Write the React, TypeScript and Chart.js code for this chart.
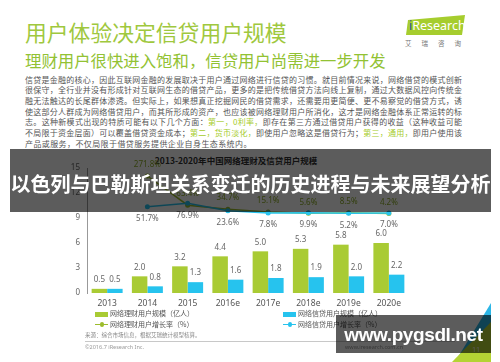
import React, { useEffect, useRef } from 'react';
import { Chart, registerables } from 'chart.js';

Chart.register(...registerables);

const categories = ['2013', '2014', '2015', '2016e', '2017e', '2018e', '2019e', '2020e'];
const wealthUsers = [0.5, 2.0, 3.2, 4.4, 5.0, 5.3, 5.8, 6.0];
const creditUsers = [0.5, 0.8, 1.3, 1.6, 1.8, 1.9, 2.0, 2.2];
const wealthGrowth = [null, 271.8, 63.4, 34.7, 15.1, 5.6, 8.5, 4.2];
const creditGrowth = [null, 51.7, 76.9, 23.6, 7.8, 9.9, 5.2, 7.0];
const yTicks = [0, 3, 6, 9, 12, 15];

const seriesNames = ['网络理财用户规模（亿人）', '网络信贷用户规模（亿人）', '网络理财用户增长率（%）', '网络信贷用户增长率（%）'];

const paragraphLines = [
  '信贷是金融的核心，因此互联网金融的发展取决于用户通过网络进行信贷的习惯。就目前情况来说，网络借贷的模式创新',
  '很保守，全行业并没有形成针对互联网生态的借贷产品，更多的是把传统借贷方法向线上复制，通过大数据风控向传统金',
  '融无法触达的长尾群体渗透。但实际上，如果想真正挖掘网民的借贷需求，还需要用更简便、更不易察觉的借贷方式，诱',
  '使这部分人群成为网络借贷用户，而其所形成的资产，也应该被网络理财用户所消化，这才是网络金融体系正常运转的标',
];

const GREEN = '#a9cb34';
const BLUE = '#26c3ee';
const CJK = '"Noto Sans CJK SC", "Noto Sans", sans-serif';

const labelPlugin = {
  id: 'valueLabels',
  afterDatasetsDraw(chart: any) {
    const ctx = chart.ctx;
    ctx.save();
    ctx.textAlign = 'center';
    ctx.textBaseline = 'middle';
    ctx.font = '8px "Noto Sans", sans-serif';
    chart.data.datasets.forEach((ds: any, i: number) => {
      const meta = chart.getDatasetMeta(i);
      meta.data.forEach((el: any, j: number) => {
        const v = ds.data[j];
        if (v == null) return;
        if (ds.labelKind === 'bar') {
          ctx.fillStyle = '#666';
          ctx.fillText(v.toFixed(1), el.x, el.y - 9);
        } else if (ds.labelKind === 'above') {
          ctx.fillStyle = '#8fae2a';
          ctx.fillText(v.toFixed(1) + '%', el.x, el.y - 11);
        } else {
          ctx.fillStyle = '#666';
          ctx.fillText(v.toFixed(1) + '%', el.x, el.y + 12);
        }
      });
    });
    ctx.restore();
  },
};

function ChartBox() {
  const ref = useRef<HTMLCanvasElement | null>(null);
  useEffect(() => {
    if (!ref.current) return;
    const chart = new Chart(ref.current, {
      type: 'bar',
      data: {
        labels: categories,
        datasets: [
          {
            type: 'line',
            label: seriesNames[3],
            data: creditGrowth,
            yAxisID: 'y1',
            borderColor: BLUE,
            backgroundColor: BLUE,
            borderWidth: 1.5,
            pointRadius: 2.5,
            pointBackgroundColor: BLUE,
            pointBorderWidth: 0,
            order: 0,
            labelKind: 'below',
          } as any,
          {
            type: 'line',
            label: seriesNames[2],
            data: wealthGrowth,
            yAxisID: 'y1',
            borderColor: '#9cbc2c',
            backgroundColor: '#9cbc2c',
            borderWidth: 1.5,
            pointRadius: 2.5,
            pointBackgroundColor: '#9cbc2c',
            pointBorderWidth: 0,
            order: 1,
            labelKind: 'above',
          } as any,
          {
            type: 'bar',
            label: seriesNames[0],
            data: wealthUsers,
            backgroundColor: GREEN,
            yAxisID: 'y',
            categoryPercentage: 0.77,
            barPercentage: 1,
            order: 2,
            labelKind: 'bar',
          } as any,
          {
            type: 'bar',
            label: seriesNames[1],
            data: creditUsers,
            backgroundColor: BLUE,
            yAxisID: 'y',
            categoryPercentage: 0.77,
            barPercentage: 1,
            order: 2,
            labelKind: 'bar',
          } as any,
        ],
      },
      options: {
        responsive: false,
        animation: false,
        layout: { padding: { top: 18, right: 41, left: 0, bottom: 0 } },
        plugins: {
          legend: { display: false },
          title: { display: false },
          tooltip: { enabled: false },
        },
        scales: {
          x: {
            grid: { display: false, drawTicks: false },
            border: { display: false },
            ticks: { color: '#555', font: { size: 8.5, family: '"Noto Sans", sans-serif' }, padding: 5 },
            afterFit: (s: any) => { s.height = 27; },
          },
          y: {
            min: 0,
            max: 15,
            grid: { display: false, drawTicks: false },
            border: { display: true, color: '#999', width: 1 },
            ticks: { color: '#666', font: { size: 8, family: '"Noto Sans", sans-serif' }, padding: 7 },
            afterBuildTicks: (s: any) => { s.ticks = yTicks.map((v) => ({ value: v })); },
            afterFit: (s: any) => { s.width = 37; },
          },
          y1: {
            display: false,
            position: 'right',
            min: -564,
            max: 329,
          },
        },
      } as any,
      plugins: [labelPlugin],
    });
    return () => chart.destroy();
  }, []);
  return (
    <canvas
      ref={ref}
      width={400}
      height={170}
      style={{ position: 'absolute', left: 50, top: 150, width: 400, height: 170 }}
    />
  );
}

const abs = (left: number, top: number, extra: any = {}) => ({ position: 'absolute' as const, left, top, ...extra });

export default function App() {
  const hl = { color: '#a6cc2c' };
  return (
    <div style={{ position: 'fixed', left: 0, top: 0, width: 500, height: 362, background: '#fff', overflow: 'hidden', fontFamily: CJK }}>
      {/* titles */}
      <div style={abs(25, 21, { fontSize: 21.8, lineHeight: 1, color: '#9fc83e', whiteSpace: 'nowrap' })}>用户体验决定信贷用户规模</div>
      <div style={abs(25, 51.5, { fontSize: 16.4, lineHeight: 1, color: '#92c233', whiteSpace: 'nowrap' })}>理财用户很快进入饱和，信贷用户尚需进一步开发</div>

      {/* logo */}
      <div style={abs(0, 0, { width: 500, height: 362, clipPath: 'polygon(408px 20px, 465px 15px, 462px 35px, 406px 35px)', background: '#a6cd2e' })} />
      <div style={abs(409, 20, { fontSize: 12.5, lineHeight: 1, color: '#fff', fontFamily: '"Noto Sans", sans-serif', whiteSpace: 'nowrap' })}>
        <span style={{ color: '#2d4f9a' }}>i</span>Research
      </div>
      <div style={abs(405, 39.5, { fontSize: 6.5, lineHeight: 1, color: '#777', letterSpacing: 10, whiteSpace: 'nowrap' })}>艾瑞咨询</div>

      {/* paragraph */}
      {paragraphLines.map((t, i) => (
        <div key={i} style={abs(25, 79 - 4.5 + i * 10.67, { width: 437, fontSize: 8, lineHeight: '9px', color: '#555', whiteSpace: 'nowrap', textAlign: 'justify', textAlignLast: 'justify' })}>{t}</div>
      ))}
      <div style={abs(25, 79 - 4.5 + 4 * 10.67, { width: 437, fontSize: 8, lineHeight: '9px', color: '#555', whiteSpace: 'nowrap', textAlign: 'justify', textAlignLast: 'justify' })}>
        志。这种新模式出现的特质可能有以下几个方面：<span style={hl}>第一，0利率，</span>即存在第三方通过借贷用户获得的收益（这种收益可能
      </div>
      <div style={abs(25, 79 - 4.5 + 5 * 10.67, { width: 437, fontSize: 8, lineHeight: '9px', color: '#555', whiteSpace: 'nowrap', textAlign: 'justify', textAlignLast: 'justify' })}>
        不局限于资金层面）可以覆盖借贷资金成本；<span style={hl}>第二，货币淡化，</span>即使用户忽略这是借贷行为；<span style={hl}>第三，通用，</span>即用户使用该
      </div>
      <div style={abs(25, 79 - 4.5 + 6 * 10.67, { fontSize: 8, lineHeight: '9px', color: '#555', whiteSpace: 'nowrap', letterSpacing: 0.4 })}>
        产品或服务，不仅局限于借贷服务提供企业自身生态系统内。
      </div>

      {/* chart */}
      <div style={abs(0, 155.5, { width: 472, textAlign: 'center', fontSize: 8.5, lineHeight: 1, fontWeight: 'bold', color: '#333', whiteSpace: 'nowrap' })}>2013-2020年中国网络理财及信贷用户规模</div>
      <ChartBox />

      {/* legend */}
      <div style={abs(95, 311.5, { width: 13, height: 5, background: GREEN })} />
      <div style={abs(110, 310, { fontSize: 7, lineHeight: 1, color: '#555', whiteSpace: 'nowrap' })}>{seriesNames[0]}</div>
      <div style={abs(283, 311.5, { width: 13, height: 5, background: BLUE })} />
      <div style={abs(298, 310, { fontSize: 7, lineHeight: 1, color: '#555', whiteSpace: 'nowrap' })}>{seriesNames[1]}</div>
      <div style={abs(95, 323.5, { width: 13, height: 1.5, background: '#9cbc2c' })} />
      <div style={abs(99.5, 322, { width: 4.5, height: 4.5, borderRadius: 3, background: '#9cbc2c' })} />
      <div style={abs(110, 320.5, { fontSize: 7, lineHeight: 1, color: '#555', whiteSpace: 'nowrap' })}>{seriesNames[2]}</div>
      <div style={abs(283, 323.5, { width: 13, height: 1.5, background: BLUE })} />
      <div style={abs(287.5, 322, { width: 4.5, height: 4.5, borderRadius: 3, background: BLUE })} />
      <div style={abs(298, 320.5, { fontSize: 7, lineHeight: 1, color: '#555', whiteSpace: 'nowrap' })}>{seriesNames[3]}</div>

      {/* footer */}
      <div style={abs(85, 333, { fontSize: 5.5, lineHeight: 1, color: '#888', whiteSpace: 'nowrap' })}>来源：综合市场信息，根据艾瑞统计模型核算。</div>
      <div style={abs(85, 341, { width: 370, height: 1, background: '#c8c8c8' })} />
      <div style={abs(85, 344.5, { fontSize: 5.5, lineHeight: 1, color: '#999', whiteSpace: 'nowrap', fontFamily: '"Noto Sans", sans-serif' })}>©2016.7 iResearch Inc.</div>
      <div style={abs(345, 344.5, { fontSize: 5.5, lineHeight: 1, color: '#999', whiteSpace: 'nowrap', fontFamily: '"Noto Sans", sans-serif' })}>www.iresearch.com.cn</div>
      <div style={abs(0, 0, { width: 500, height: 362, clipPath: 'polygon(491px 303px, 491px 362px, 455px 362px)', background: '#2cb6e6' })} />
      <div style={abs(0, 0, { width: 500, height: 362, clipPath: 'polygon(491px 322px, 491px 362px, 452px 362px)', background: '#b4d334' })} />
      <div style={abs(472, 346, { fontSize: 7, lineHeight: 1, color: '#eee', fontFamily: '"Noto Sans", sans-serif' })}>11</div>

      {/* overlays */}
      <div style={abs(10, 149, { width: 481, height: 63, background: 'rgba(0,0,0,0.64)' })} />
      <div style={abs(10, 173.5, { width: 481, textAlign: 'center', fontSize: 20, lineHeight: 1, fontWeight: 'bold', color: '#fff', whiteSpace: 'nowrap' })}>以色列与巴勒斯坦关系变迁的历史进程与未来展望分析</div>
      <div style={abs(336, 315, { width: 155, height: 38, background: 'rgba(0,0,0,0.64)' })} />
      <div style={abs(336, 325, { width: 155, textAlign: 'center', fontSize: 19, lineHeight: 1, fontWeight: 'bold', color: '#fff', whiteSpace: 'nowrap', fontFamily: '"Liberation Sans", sans-serif', letterSpacing: -0.4 })}>www.pygsdl.net</div>
    </div>
  );
}
